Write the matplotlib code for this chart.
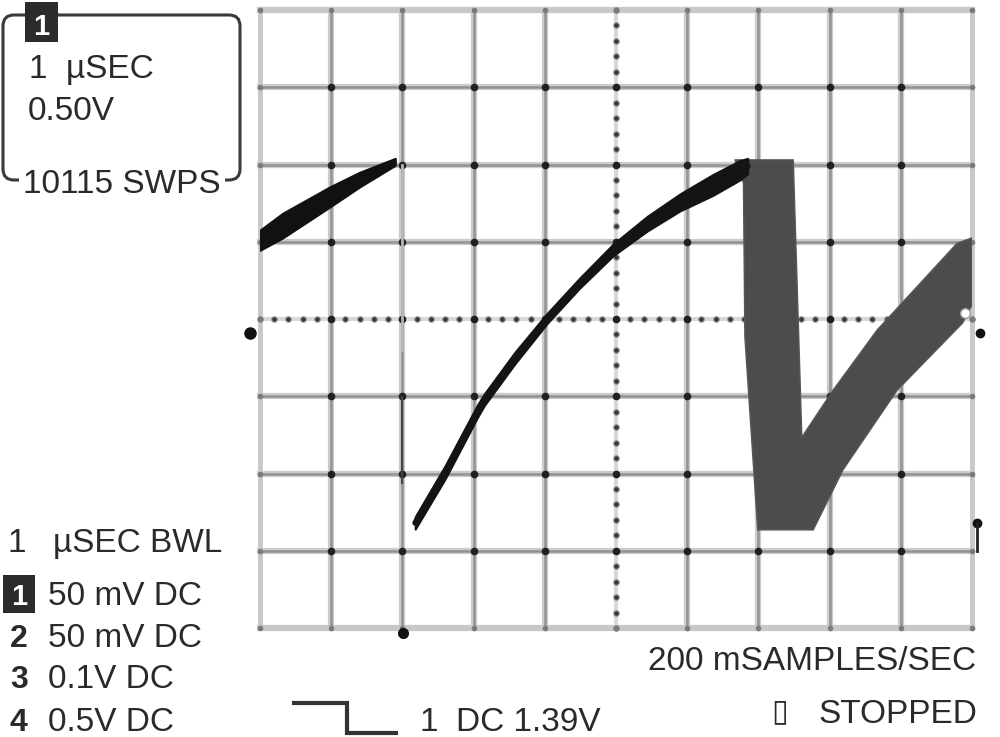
import numpy as np
import matplotlib
matplotlib.use('Agg')
import matplotlib.pyplot as plt
from matplotlib.patches import FancyBboxPatch, Rectangle, Polygon

plt.rcParams['font.family'] = ['Liberation Sans', 'DejaVu Sans']

# Scope screen: 10 horizontal divisions x 8 vertical divisions (y from -4 to 4)
n_xdiv = 10
n_ydiv = 8

# First (partial) sweep at the left, envelope
sweep1_x = [0.00, 0.32, 0.98, 1.40, 1.90]
sweep1_hi = [1.15, 1.37, 1.71, 1.90, 2.08]
sweep1_lo = [0.89, 1.05, 1.45, 1.71, 1.99]

# Falling edge at the trigger point
edge_x = 2.0
edge_y = [-1.01, -2.12]
edge_ghost_y = [2.0, -0.4]

# Main ramp after the trigger (upper / lower envelope)
ramp_x = [2.18, 2.60, 3.05, 3.15, 3.58, 4.03, 4.49, 4.96, 5.44, 5.90, 6.36, 6.74, 6.85]
ramp_hi = [-2.56, -1.90, -1.12, -0.97, -0.43, 0.07, 0.53, 0.97, 1.33, 1.62, 1.87, 2.05, 2.08]
ramp_lo = [-2.72, -2.07, -1.28, -1.12, -0.58, -0.06, 0.40, 0.82, 1.14, 1.40, 1.60, 1.80, 1.88]

# Jittered discharge / recharge band (persistence envelope outline)
band_x = [6.67, 7.49, 7.61, 8.05, 8.67, 9.79, 10.0, 10.0, 9.87, 8.95, 8.19, 7.77, 6.99, 6.81, 6.79]
band_y = [2.06, 2.06, -1.53, -0.92, -0.14, 0.98, 1.05, 0.18, -0.05, -0.92, -1.95, -2.73, -2.73, -0.23, 1.76]

# screen markers (ground level, trigger level, trigger position)
gnd_marker = (-0.14, -0.18)
right_markers_x = [10.11, 10.07]
right_markers_y = [-0.18, -2.64]
trig_pos_marker = (2.01, -4.06)
hole_marker = (9.90, 0.08)

TXT = '#2a2a2a'

fig = plt.figure(figsize=(10, 7.37), dpi=100)
ax = fig.add_axes([0.26, 0.1479, 0.712, 0.8385])
ax.set_xlim(0, n_xdiv)
ax.set_ylim(-n_ydiv / 2, n_ydiv / 2)
ax.axis('off')

xs = np.arange(0, n_xdiv + 1)
ys = np.arange(-n_ydiv // 2, n_ydiv // 2 + 1)

# graticule
for x in xs:
    if x == n_xdiv // 2:
        continue
    if x in (0, n_xdiv):
        ax.plot([x, x], [ys[0], ys[-1]], color='#c8c8c8', lw=3.5, zorder=1, clip_on=False)
    else:
        ax.plot([x, x], [ys[0], ys[-1]], color='#cccccc', lw=4.5, zorder=1, clip_on=False)
        ax.plot([x, x], [ys[0], ys[-1]], color='#929292', lw=1.8, zorder=1.1, clip_on=False)
for y in ys:
    if y == 0:
        continue
    if y in (ys[0], ys[-1]):
        ax.plot([xs[0], xs[-1]], [y, y], color='#c8c8c8', lw=4.5, zorder=1, clip_on=False)
    else:
        ax.plot([xs[0], xs[-1]], [y, y], color='#cccccc', lw=4.5, zorder=1, clip_on=False)
        ax.plot([xs[0], xs[-1]], [y, y], color='#929292', lw=1.8, zorder=1.1, clip_on=False)

# center axes, dotted with minor ticks
minor_x = np.arange(0, n_xdiv + 0.01, 0.2)
minor_y = np.arange(-n_ydiv / 2, n_ydiv / 2 + 0.01, 0.2)
ax.plot([0, n_xdiv], [0, 0], color='#d8d8d8', lw=3, zorder=1, clip_on=False)
ax.plot(minor_x, np.zeros_like(minor_x), 'o', ms=4, color='#363636', mec='#9a9a9a', mew=0.8, zorder=1.2, clip_on=False)
ax.plot([n_xdiv / 2] * 2, [-n_ydiv / 2, n_ydiv / 2], color='#d8d8d8', lw=3, zorder=1, clip_on=False)
ax.plot(np.full_like(minor_y, n_xdiv / 2), minor_y, 'o', ms=4, color='#363636', mec='#9a9a9a', mew=0.8, zorder=1.2, clip_on=False)

# intersection dots
gx, gy = np.meshgrid(xs, ys)
inner = (gx > 0) & (gx < n_xdiv) & (gy > ys[0]) & (gy < ys[-1])
ax.plot(gx[inner], gy[inner], 'o', ms=4.5, color='#202020', zorder=1.3)
ax.plot(gx[~inner], gy[~inner], 'o', ms=3, color='#7a7a7a', zorder=1.3, clip_on=False)

# traces
ax.fill_between(sweep1_x, sweep1_lo, sweep1_hi, color='#111111', lw=1.5, ec='#111111', zorder=3)
ax.plot([edge_x, edge_x], edge_ghost_y, color='#b5b5b5', lw=2, zorder=2)
ax.plot([edge_x, edge_x], edge_y, color='#444444', lw=1.6, zorder=3)

ax.add_patch(Polygon(np.column_stack([band_x, band_y]), closed=True, fc='#4c4c4c',
                     ec='#575757', lw=1.0, zorder=3, joinstyle='round'))

ramp_mid = (np.array(ramp_hi) + np.array(ramp_lo)) / 2
ax.fill_between(ramp_x, ramp_lo, ramp_hi, color='#141414', lw=1.5, ec='#141414', zorder=4)
ax.plot(ramp_x, ramp_mid, color='#141414', lw=4.2, solid_capstyle='round',
        solid_joinstyle='round', zorder=4)

# markers around the screen
ax.plot(*gnd_marker, 'o', ms=8, color='#111111', clip_on=False, zorder=5)
ax.plot(right_markers_x, right_markers_y, 'o', ms=6, color='#111111', clip_on=False, zorder=5)
ax.plot([right_markers_x[1]] * 2, [right_markers_y[1], -3.0], color='#222222', lw=2, clip_on=False, zorder=5)
ax.plot(*trig_pos_marker, 'o', ms=7, color='#111111', clip_on=False, zorder=5)
ax.plot(*hole_marker, 'o', ms=7, mfc='white', mec='#9a9a9a', mew=1, zorder=5)

# annotation layer in pixel coordinates
ov = fig.add_axes([0, 0, 1, 1], facecolor='none')
ov.set_xlim(0, 1000)
ov.set_ylim(737, 0)
ov.axis('off')

ov.add_patch(FancyBboxPatch((3, 15), 237, 165, boxstyle='round,pad=0,rounding_size=11',
                            fc='none', ec='#3a3a3a', lw=2.2))
ov.add_patch(Rectangle((25, 2), 33, 40, fc='#2b2b2b', ec='none'))
ov.text(41.5, 35, '1', color='white', fontsize=21, fontweight='bold', ha='center', va='baseline')
ov.text(29, 78, '1  µSEC', color=TXT, fontsize=24, va='baseline')
ov.text(28, 120, '0.50V', color=TXT, fontsize=24, va='baseline')
ov.text(23, 193, '10115 SWPS', color=TXT, fontsize=24, va='baseline',
        bbox=dict(boxstyle='square,pad=0.12', fc='white', ec='none'))

ov.text(8, 552, '1', color=TXT, fontsize=24, va='baseline')
ov.text(53, 552, 'µSEC BWL', color=TXT, fontsize=24, va='baseline')
ov.add_patch(Rectangle((3, 575), 32, 38, fc='#2b2b2b', ec='none'))
ov.text(19, 605, '1', color='white', fontsize=21, fontweight='bold', ha='center', va='baseline')
ov.text(48, 605, '50 mV DC', color=TXT, fontsize=24, va='baseline')
ov.text(10, 647, '2', color=TXT, fontsize=23, fontweight='bold', va='baseline')
ov.text(48, 647, '50 mV DC', color=TXT, fontsize=24, va='baseline')
ov.text(10, 688, '3', color=TXT, fontsize=23, fontweight='bold', va='baseline')
ov.text(48, 688, '0.1V DC', color=TXT, fontsize=24, va='baseline')
ov.text(10, 731, '4', color=TXT, fontsize=23, fontweight='bold', va='baseline')
ov.text(48, 731, '0.5V DC', color=TXT, fontsize=24, va='baseline')

ov.plot([292, 347, 347, 398], [703, 703, 733, 733], color='#333333', lw=3,
        solid_joinstyle='miter', solid_capstyle='butt')
ov.text(419, 731, '1', color=TXT, fontsize=24, va='baseline')
ov.text(456, 731, 'DC 1.39V', color=TXT, fontsize=24, va='baseline')

ov.text(976, 670, '200 mSAMPLES/SEC', color=TXT, fontsize=24, ha='right', va='baseline')
ov.text(771, 720, '\u25af', color=TXT, fontsize=22, va='baseline', family=['DejaVu Sans'])
ov.text(818, 723, 'STOPPED', color=TXT, fontsize=24, va='baseline')

fig.savefig('out.png', dpi=100, facecolor='white')
